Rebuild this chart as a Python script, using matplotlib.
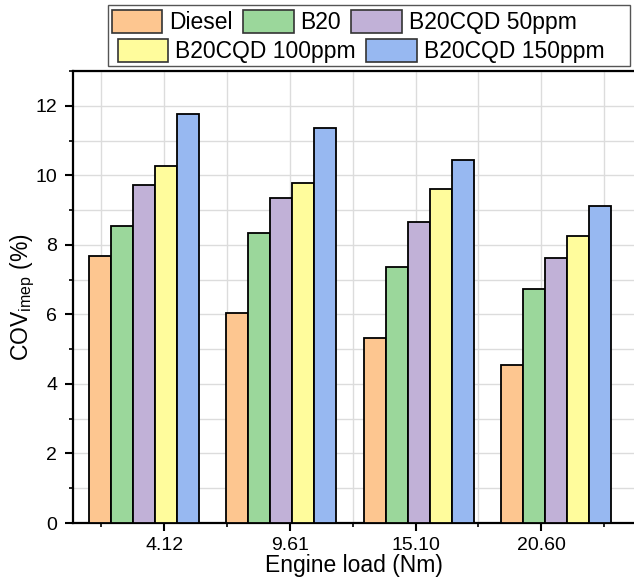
import numpy as np
import matplotlib
matplotlib.use("Agg")
import matplotlib.pyplot as plt
from matplotlib.patches import Patch, Rectangle
from matplotlib.ticker import MultipleLocator

plt.rcParams['font.family'] = ['Liberation Sans', 'DejaVu Sans']

# data
loads = ['4.12', '9.61', '15.10', '20.60']
fuels = ['Diesel', 'B20', 'B20CQD 50ppm', 'B20CQD 100ppm', 'B20CQD 150ppm']
diesel = [7.69, 6.05, 5.31, 4.54]
b20 = [8.53, 8.34, 7.37, 6.72]
cqd50 = [9.72, 9.36, 8.65, 7.63]
cqd100 = [10.26, 9.77, 9.62, 8.25]
cqd150 = [11.77, 11.37, 10.43, 9.11]
colors = ['#fdc690', '#9bd79b', '#c1b1d7', '#fffc9c', '#97b8f1']

series = [diesel, b20, cqd50, cqd100, cqd150]

fig = plt.figure(figsize=(6.34, 5.78), dpi=100)
ax = fig.add_axes([73 / 634, 1 - 523 / 578, 1 - 73 / 634, (523 - 71) / 578])

x = np.arange(len(loads))
w = 0.16
for i, (vals, c) in enumerate(zip(series, colors)):
    ax.bar(x + (i - 2) * w, vals, w, color=c, edgecolor='black', linewidth=1.3, zorder=3)

# tick labels sit a bit off the group centres, like the original
tick_pos = 0.15 + 0.914 * x
ax.set_xticks(tick_pos)
ax.set_xticklabels(loads)
ax.set_xticks(np.append(tick_pos - 0.457, tick_pos[-1] + 0.457), minor=True)
ax.set_xlim(-0.513, 3.567)

ax.set_ylim(0, 13)
ax.yaxis.set_major_locator(MultipleLocator(2))
ax.yaxis.set_minor_locator(MultipleLocator(1))
ax.set_yticks([0, 2, 4, 6, 8, 10, 12])

ax.grid(True, which='both', color='#dcdcdc', linewidth=1.0, zorder=0)
ax.set_axisbelow(True)

ax.tick_params(axis='both', which='major', direction='out', length=5.8, width=1.5,
               labelsize=14, pad=4, colors='black')
ax.tick_params(axis='y', which='major', pad=5.5)
ax.tick_params(axis='both', which='minor', direction='out', length=3, width=1.2)
for s in ['left', 'bottom', 'top']:
    ax.spines[s].set_linewidth(1.6)
ax.spines['right'].set_visible(False)

ax.set_xlabel('Engine load (Nm)', fontsize=16.5, labelpad=0)
ax.set_ylabel('COV$_{\\mathregular{imep}}$ (%)', fontsize=16.5)
ax.yaxis.set_label_coords(-0.064, 0.5)

handles = [Patch(facecolor=c, edgecolor='#333333', linewidth=1.2) for c in colors]
kw = dict(frameon=False, fontsize=16.5, handlelength=2.2, handleheight=1.15,
          handletextpad=0.3, columnspacing=0.45, borderaxespad=0, borderpad=0)
fig.legend(handles[:3], fuels[:3], ncol=3, loc='center left',
           bbox_to_anchor=(112 / 634, 1 - 22 / 578), **kw)
fig.legend(handles[3:], fuels[3:], ncol=2, loc='center left',
           bbox_to_anchor=(118 / 634, 1 - 51 / 578), **kw)
fig.patches.append(Rectangle((108 / 634, 1 - 66 / 578), 522 / 634, 61 / 578,
                             transform=fig.transFigure, fill=False,
                             edgecolor='#555555', linewidth=1.0))

fig.savefig('out.png', dpi=100)
